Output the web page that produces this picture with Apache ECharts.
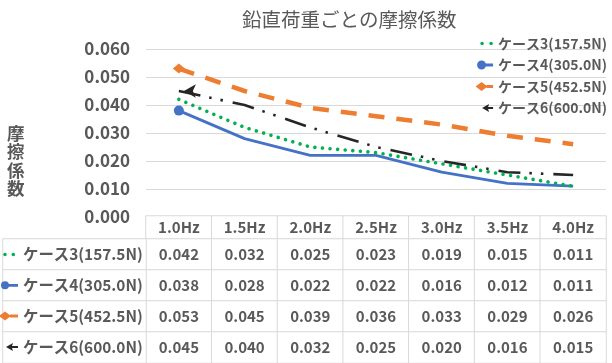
<!DOCTYPE html>
<html><head><meta charset="utf-8">
<script src="https://cdn.jsdelivr.net/npm/echarts@6/dist/echarts.min.js"></script>
<style>html,body{margin:0;padding:0;background:#fff}#c{width:612px;height:363px}</style>
</head><body><div id="c"></div>
<script>
const categories = ['1.0Hz','1.5Hz','2.0Hz','2.5Hz','3.0Hz','3.5Hz','4.0Hz'];
const seriesNames = ['ケース3(157.5N)','ケース4(305.0N)','ケース5(452.5N)','ケース6(600.0N)'];
const case3 = [0.042,0.032,0.025,0.023,0.019,0.015,0.011];
const case4 = [0.038,0.028,0.022,0.022,0.016,0.012,0.011];
const case5 = [0.053,0.045,0.039,0.036,0.033,0.029,0.026];
const case6 = [0.045,0.040,0.032,0.025,0.020,0.016,0.015];
const allCases = [case3, case4, case5, case6];

const FONT = '"Noto Sans CJK JP", "Noto Sans", sans-serif';
const GRAY = '#595959';
const BORDER = '#D9D9D9';
const colors = ['#00B050', '#4472C4', '#ED7D31', '#262626'];

function circ(cx, cy, r) {
  return 'M' + (cx - r) + ' ' + cy + ' A' + r + ' ' + r + ' 0 1 1 ' + (cx + r) + ' ' + cy +
         ' A' + r + ' ' + r + ' 0 1 1 ' + (cx - r) + ' ' + cy + ' Z ';
}
function rect(x1, y1, x2, y2) {
  return 'M' + x1 + ' ' + y1 + ' L' + x2 + ' ' + y1 + ' L' + x2 + ' ' + y2 + ' L' + x1 + ' ' + y2 + ' Z ';
}
function makeIcons(o) {
  const box = 'M0 0 M22 12 ';
  return [
    'path://' + box + circ(o.d1, 6, 1.8) + circ(o.d2, 6, 1.8),
    'path://' + box + circ(o.c, 6, o.r) + rect(o.c + o.r - 0.5, 4.6, 22, 7.4),
    'path://' + box + 'M' + (o.c - 6) + ' 6 L' + o.c + ' 1.5 L' + (o.c + 6) + ' 6 L' + o.c + ' 10.5 Z ' + rect(o.c + 5, 4.5, 22, 7.5),
    'path://' + box + 'M' + o.a + ' 6 L' + (o.a + 7) + ' 2 L' + (o.a + 6) + ' 5 L22 5 L22 7 L' + (o.a + 6) + ' 7 L' + (o.a + 7) + ' 10 Z '
  ];
}
const topIcons = makeIcons({d1: 11, d2: 20, c: 10.5, r: 4.5, a: 11});
const tblIcons = makeIcons({d1: 9, d2: 17.3, c: 9, r: 4, a: 10});

function firstMark(arr, mark) {
  return arr.map((v, i) => i === 0 ? Object.assign({value: v}, mark) : v);
}

const lineStyles = [
  {color: colors[0], width: 3.6, type: [0.01, 7.6], cap: 'round'},
  {color: colors[1], width: 2.8, type: 'solid'},
  {color: colors[2], width: 4.5, type: [16, 12], cap: 'butt'},
  {color: colors[3], width: 2.6, type: [22, 9, 2.5, 9, 2.5, 10], cap: 'butt'}
];
const marks = [
  null,
  {symbol: 'circle', symbolSize: 10},
  {symbol: 'diamond', symbolSize: [12, 10]},
  {symbol: 'arrow', symbolSize: [10, 12], symbolRotate: 90, symbolOffset: [5, 0]}
];

const lineSeries = allCases.map((arr, k) => ({
  name: seriesNames[k],
  type: 'line',
  xAxisIndex: 0, yAxisIndex: 0,
  data: marks[k] ? firstMark(arr, marks[k]) : arr,
  symbol: 'none',
  itemStyle: {color: colors[k], borderWidth: 0},
  lineStyle: lineStyles[k],
  z: 10 - k,
  silent: true,
  animation: false
}));

const cellStyle = {color: '#fff', borderColor: BORDER, borderWidth: 1};
const cellLabel = {show: true, color: GRAY, fontFamily: FONT, fontWeight: 'bold', fontSize: 15};

const headerData = categories.map((c, i) => [i, 0, 0]);
const tableData = [];
allCases.forEach((arr, r) => arr.forEach((v, i) => tableData.push([i, r, v])));
const nameData = seriesNames.map((n, r) => [0, r, 0]);

const legendText = (size, lh) => ({color: GRAY, fontFamily: FONT, fontWeight: 'bold', fontSize: size, lineHeight: lh});

const option = {
  animation: false,
  title: [
    {text: '鉛直荷重ごとの摩擦係数', left: 237, top: 5,
     textStyle: {color: GRAY, fontFamily: FONT, fontWeight: 'normal', fontSize: 19.5}},
    {text: '摩\n擦\n係\n数', left: 2, top: 119,
     textStyle: {color: GRAY, fontFamily: FONT, fontWeight: 'bold', fontSize: 17.5, lineHeight: 18.5}}
  ],
  legend: [
    {orient: 'vertical', right: 5, top: 35.5, padding: 0, itemWidth: 22, itemHeight: 12, itemGap: 5.5,
     selectedMode: false, itemStyle: {borderWidth: 0},
     data: seriesNames.map((n, k) => ({name: n, icon: topIcons[k]})),
     textStyle: legendText(14, 16)},
    {orient: 'vertical', left: -4, top: 244.5, padding: 0, itemWidth: 22, itemHeight: 12, itemGap: 10.8,
     selectedMode: false, itemStyle: {borderWidth: 0},
     data: seriesNames.map((n, k) => ({name: n, icon: tblIcons[k]})),
     textStyle: legendText(15.4, 20)}
  ],
  grid: [
    {left: 146, right: 6, top: 49, height: 168},
    {left: 146, right: 6, top: 216, height: 23},
    {left: 146, right: 6, top: 239, height: 124},
    {left: 3, width: 143, top: 239, height: 124}
  ],
  xAxis: [
    {gridIndex: 0, type: 'category', data: categories, boundaryGap: true,
     axisLabel: {show: false}, axisTick: {show: false},
     axisLine: {show: true, lineStyle: {color: BORDER, width: 1}}},
    {gridIndex: 1, type: 'category', data: categories, show: false},
    {gridIndex: 2, type: 'category', data: categories, show: false},
    {gridIndex: 3, type: 'category', data: ['name'], show: false}
  ],
  yAxis: [
    {gridIndex: 0, type: 'value', min: 0, max: 0.06, interval: 0.01,
     axisLabel: {formatter: v => v.toFixed(3), color: GRAY, fontFamily: FONT, fontWeight: 'bold', fontSize: 17, margin: 16},
     axisLine: {show: false}, axisTick: {show: false},
     splitLine: {lineStyle: {color: BORDER, width: 1}}},
    {gridIndex: 1, type: 'category', data: ['hdr'], show: false},
    {gridIndex: 2, type: 'category', data: seriesNames, inverse: true, show: false},
    {gridIndex: 3, type: 'category', data: seriesNames, inverse: true, show: false}
  ],
  series: lineSeries.concat([
    {type: 'heatmap', xAxisIndex: 1, yAxisIndex: 1, data: headerData, itemStyle: cellStyle, silent: true,
     label: Object.assign({}, cellLabel, {formatter: p => categories[p.data[0]]})},
    {type: 'heatmap', xAxisIndex: 2, yAxisIndex: 2, data: tableData, itemStyle: cellStyle, silent: true,
     label: Object.assign({}, cellLabel, {formatter: p => p.data[2].toFixed(3)})},
    {type: 'heatmap', xAxisIndex: 3, yAxisIndex: 3, data: nameData, itemStyle: cellStyle, silent: true,
     label: {show: false}}
  ])
};

const chart = echarts.init(document.getElementById('c'), null, {renderer: 'canvas'});
chart.setOption(option);
</script>
</body></html>
